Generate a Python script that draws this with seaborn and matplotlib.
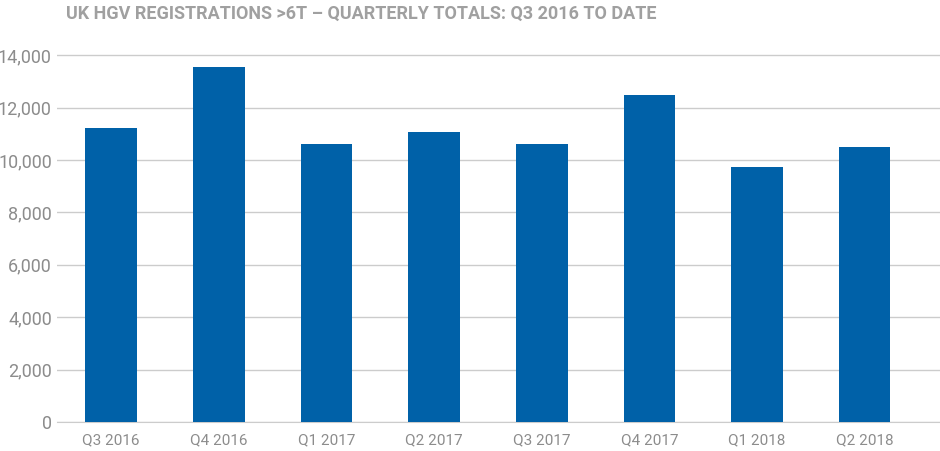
import matplotlib
matplotlib.use("Agg")
import matplotlib.pyplot as plt
import seaborn as sns
import pandas as pd

quarters = ["Q3 2016","Q4 2016","Q1 2017","Q2 2017","Q3 2017","Q4 2017","Q1 2018","Q2 2018"]
registrations = [11220, 13550, 10610, 11080, 10600, 12480, 9730, 10490]
yticks = [0, 2000, 4000, 6000, 8000, 10000, 12000, 14000]

df = pd.DataFrame({"q": quarters, "v": registrations})
plt.rcParams["font.family"] = "Roboto"
fig = plt.figure(figsize=(9.4, 4.51), dpi=100)
ax = fig.add_axes([0.061, 0.064, 0.939, 0.872])
sns.barplot(data=df, x="q", y="v", color="#0061a8", width=0.48, saturation=1, ax=ax, zorder=3)
ax.set_ylim(0, 15000)
ax.set_xlim(-0.5, 7.7)
ax.set_yticks(yticks)
ax.set_yticklabels([f"{t:,}" for t in yticks])
ax.grid(axis="y", color="#cccccc", linewidth=1, zorder=0)
for s in ["top","right","left"]:
    ax.spines[s].set_visible(False)
ax.spines["bottom"].set_color("#cccccc")
ax.tick_params(axis="both", length=0, colors="#8c8c8c", labelsize=11)
ax.tick_params(axis="y", labelsize=13, pad=4)
ax.tick_params(axis="x", pad=8)
ax.set_xlabel(""); ax.set_ylabel("")
fig.text(0.07, 0.97, "UK HGV REGISTRATIONS >6T – QUARTERLY TOTALS: Q3 2016 TO DATE",
         color="#a0a0a0", fontsize=13, fontweight="bold", va="center")
fig.savefig("out.png", dpi=100)
